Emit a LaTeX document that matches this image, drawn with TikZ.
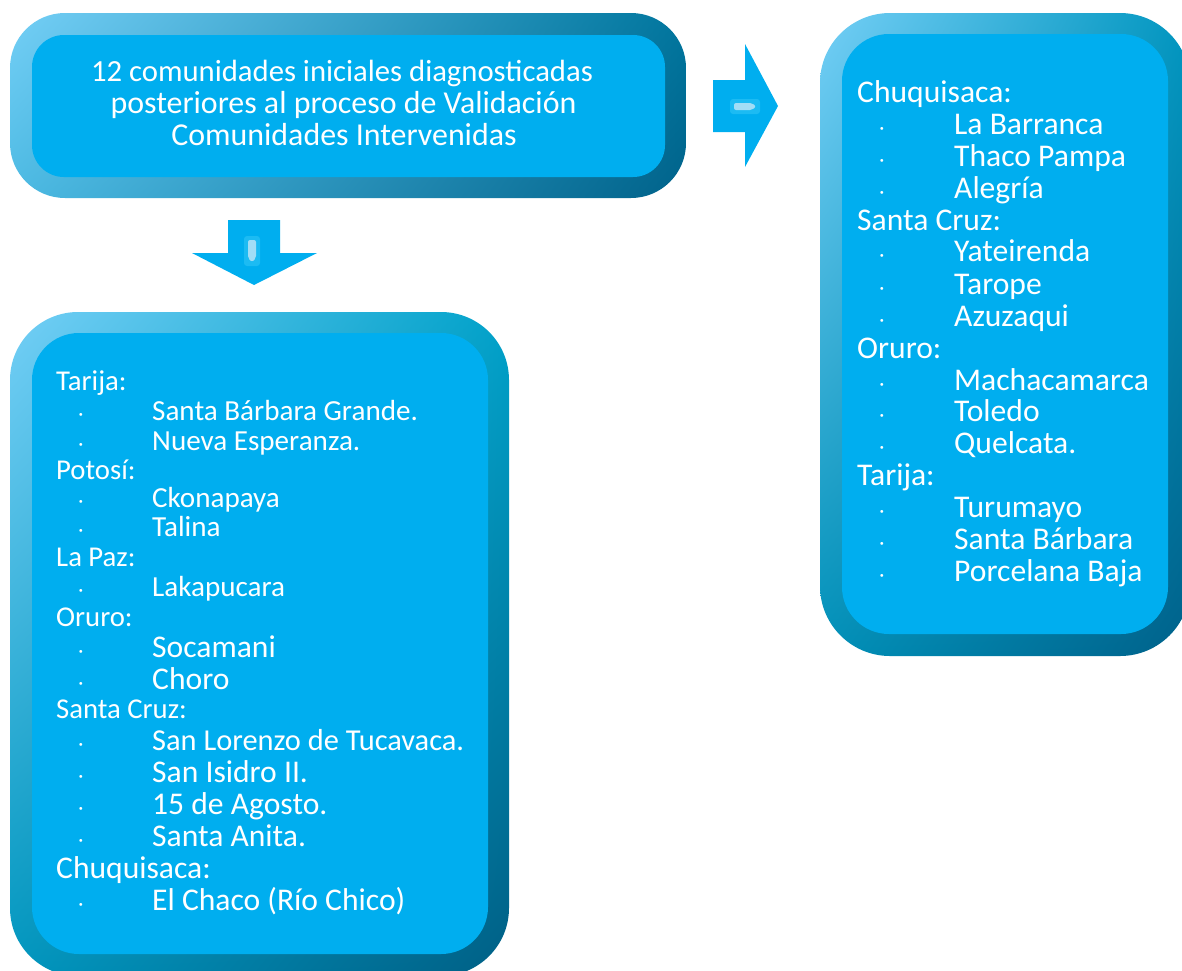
\documentclass[tikz,border=0pt]{standalone}
\usepackage{fontspec}
\setmainfont{Carlito}
\usetikzlibrary{shadings}
\begin{document}
\begin{tikzpicture}[x=1pt,y=-1pt,
  inner/.style={fill=innerc},
  txt/.style={text=white,inner sep=0pt,font=\fontsize{31.6}{32}\selectfont},
  smalltxt/.style={text=white,inner sep=0pt,font=\fontsize{28.7}{30}\selectfont},
  hd/.style={txt,anchor=base west},
  hds/.style={smalltxt,anchor=base west},
  it/.style={txt,anchor=base west},
  its/.style={text=white,inner sep=0pt,anchor=base west,font=\fontsize{29.1}{30}\selectfont},
  bul/.style={text=white,inner sep=0pt,anchor=base,font=\fontsize{20}{20}\selectfont},
  blockarrow/.style={fill=innerc},
]
\definecolor{innerc}{HTML}{00AEEF}
\definecolor{fUL}{HTML}{74CFF6}
\definecolor{glowc}{HTML}{1CBBF3}
\definecolor{hlc}{HTML}{A2DDF6}
\definecolor{tUR}{RGB}{0,118,158}
\definecolor{tLL}{RGB}{76,186,227}
\definecolor{tLR}{RGB}{0,98,138}
\definecolor{lUR}{RGB}{0,162,202}
\definecolor{lLL}{RGB}{0,150,190}
\definecolor{lLR}{RGB}{0,95,133}
\definecolor{rUR}{RGB}{0,150,192}
\definecolor{rLL}{RGB}{0,144,184}
\definecolor{rLR}{RGB}{0,97,138}
\useasboundingbox (0,0) rectangle (1182,970);
\clip (0,0) rectangle (1182,970);

% ---------- top box ----------
\shade[rounded corners=55pt,upper left=fUL,upper right=tUR,lower left=tLL,lower right=tLR]
  (10,13) rectangle (686,198);
\fill[inner,rounded corners=32pt] (32,35) rectangle (665,177);
\node[txt,anchor=base,font=\fontsize{30.7}{32}\selectfont] (t1) at (342,81.7) {12 comunidades iniciales diagnosticadas};
\node[txt,anchor=base,font=\fontsize{31.9}{32}\selectfont] (t2) at (343.5,113.5) {posteriores al proceso de Validación};
\node[txt,anchor=base,font=\fontsize{31.9}{32}\selectfont] (t3) at (344,145.7) {Comunidades Intervenidas};

% ---------- right arrow ----------
\coordinate (ra) at (713,80);
\fill[blockarrow] (713,80) -- (745,80) -- (745,44) -- (778,106) -- (745,167) -- (745,132) -- (713,132) -- cycle;
\fill[glowc,rounded corners=3pt] (730,99) rectangle (760,114);
\fill[hlc,rounded corners=2pt] (734,103) -- (752,103) -- (756,106.5) -- (752,110) -- (734,110) -- cycle;

% ---------- down arrow ----------
\coordinate (da) at (228,220);
\fill[blockarrow] (228,220) -- (280,220) -- (280,253) -- (317,253) -- (254,285) -- (192,253) -- (228,253) -- cycle;
\fill[glowc,rounded corners=3pt] (244,236) rectangle (260,266);
\fill[hlc,rounded corners=2pt] (248,240) -- (256,240) -- (256,258) -- (252,262) -- (248,258) -- cycle;

% ---------- left box ----------
\shade[rounded corners=68pt,upper left=fUL,upper right=lUR,lower left=lLL,lower right=lLR]
  (10,312) rectangle (509,976);
\fill[inner,rounded corners=47pt] (32,333) rectangle (488,954);

\node[hds] (a1) at (56,390.7) {Tarija:};
\node[bul] (b1) at (81,420) {·};  \node[its] (a2) at (152,420) {Santa Bárbara Grande.};
\node[bul] (b2) at (81,450) {·};  \node[its] (a3) at (152,450) {Nueva Esperanza.};
\node[hds] (a4) at (56,479) {Potosí:};
\node[bul] (b3) at (81,507.7) {·}; \node[its] (a5) at (152,507.7) {Ckonapaya};
\node[bul] (b4) at (81,536.7) {·}; \node[its] (a6) at (152,536.7) {Talina};
\node[hds] (a7) at (56,566.7) {La Paz:};
\node[bul] (b5) at (81,596) {·};  \node[its] (a8) at (152,596) {Lakapucara};
\node[hds] (a9) at (56,626) {Oruro:};
\node[bul] (b6) at (81,657.3) {·}; \node[it] (a10) at (152,657.3) {Socamani};
\node[bul] (b7) at (81,689) {·};  \node[it] (a11) at (152,689) {Choro};
\node[hds] (a12) at (56,718.3) {Santa Cruz:};
\node[bul] (b8) at (81,750.7) {·}; \node[it,font=\fontsize{30.4}{32}\selectfont] (a13) at (152,750.7) {San Lorenzo de Tucavaca.};
\node[bul] (b9) at (81,782.7) {·}; \node[it] (a14) at (152,782.7) {San Isidro II.};
\node[bul] (b10) at (81,814.3) {·}; \node[it] (a15) at (152,814.3) {15 de Agosto.};
\node[bul] (b11) at (81,846) {·};  \node[it] (a16) at (152,846) {Santa Anita.};
\node[hd] (a17) at (56,878.3) {Chuquisaca:};
\node[bul] (b12) at (81,910.7) {·}; \node[it] (a18) at (152,910.7) {El Chaco (Río Chico)};

% ---------- right box ----------
\shade[rounded corners=70pt,upper left=fUL,upper right=rUR,lower left=rLL,lower right=rLR]
  (820,13) rectangle (1190,656);
\fill[inner,rounded corners=47pt] (842,34) rectangle (1168,634);

\node[hd] (r1) at (857,102.3) {Chuquisaca:};
\node[bul] (c1) at (882,134) {·};   \node[it] (r2) at (954,134) {La Barranca};
\node[bul] (c2) at (882,166) {·};   \node[it] (r3) at (954,166) {Thaco Pampa};
\node[bul] (c3) at (882,198.3) {·}; \node[it] (r4) at (954,198.3) {Alegría};
\node[hd] (r5) at (857,230) {Santa Cruz:};
\node[bul] (c4) at (882,261.7) {·}; \node[it] (r6) at (954,261.7) {Yateirenda};
\node[bul] (c5) at (882,294) {·};   \node[it] (r7) at (954,294) {Tarope};
\node[bul] (c6) at (882,326) {·};   \node[it] (r8) at (954,326) {Azuzaqui};
\node[hd] (r9) at (857,358.3) {Oruro:};
\node[bul] (c7) at (882,390) {·};   \node[it] (r10) at (954,390) {Machacamarca};
\node[bul] (c8) at (882,421.7) {·}; \node[it] (r11) at (954,421.7) {Toledo};
\node[bul] (c9) at (882,453.3) {·}; \node[it] (r12) at (954,453.3) {Quelcata.};
\node[hd] (r13) at (857,485) {Tarija:};
\node[bul] (c10) at (882,517.5) {·}; \node[it] (r14) at (954,517.5) {Turumayo};
\node[bul] (c11) at (882,549.5) {·}; \node[it] (r15) at (954,549.5) {Santa Bárbara};
\node[bul] (c12) at (882,581.5) {·}; \node[it] (r16) at (954,581.5) {Porcelana Baja};
\end{tikzpicture}
\end{document}
